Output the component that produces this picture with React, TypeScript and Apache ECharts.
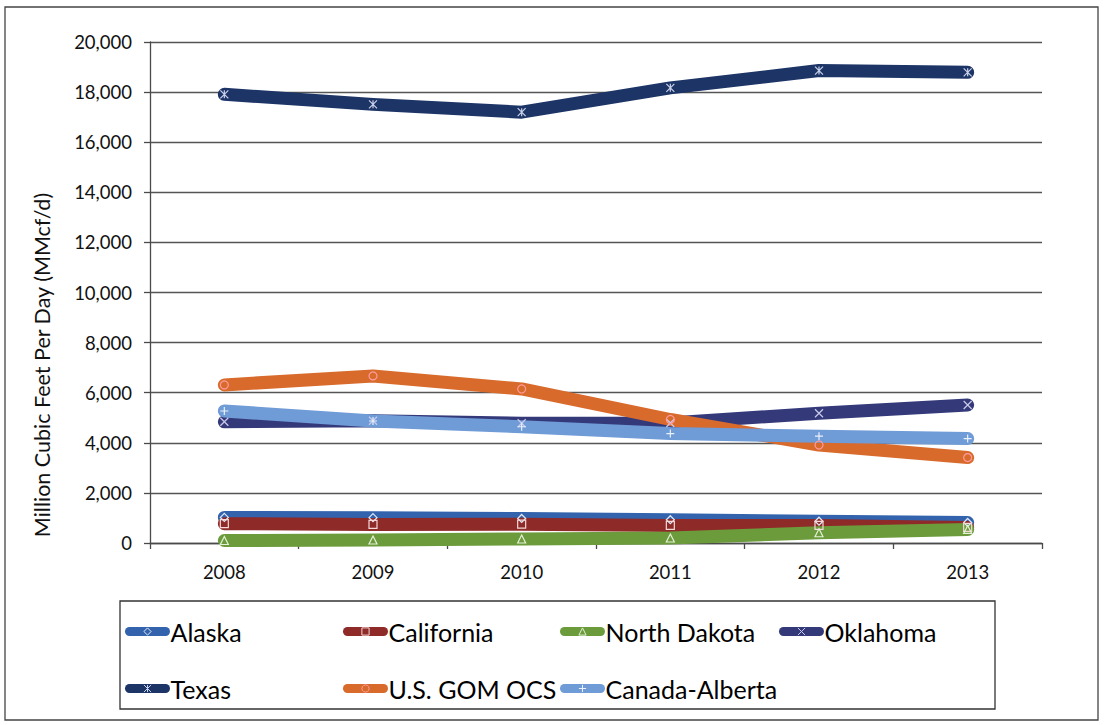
import React, { useEffect, useRef } from "react";
import * as echarts from "echarts";

// ---------- data ----------
const years = ["2008", "2009", "2010", "2011", "2012", "2013"];
const alaska = [1020, 1010, 980, 930, 870, 820];
const california = [770, 740, 750, 700, 700, 620];
const northDakota = [100, 120, 160, 200, 410, 540];
const oklahoma = [4840, 4880, 4780, 4790, 5180, 5510];
const texas = [17910, 17510, 17200, 18170, 18860, 18790];
const gomOcs = [6310, 6670, 6150, 4930, 3910, 3410];
const canadaAlberta = [5270, 4870, 4640, 4370, 4265, 4170];

const seriesNames = [
  "Alaska",
  "California",
  "North Dakota",
  "Oklahoma",
  "Texas",
  "U.S. GOM OCS",
  "Canada-Alberta",
];
const seriesValues = [alaska, california, northDakota, oklahoma, texas, gomOcs, canadaAlberta];

const yMin = 0;
const yMax = 20000;
const yStep = 2000;
const yTitle = "Million Cubic Feet Per Day (MMcf/d)";

// ---------- styles ----------
const lineColors = ["#3263ac", "#8e2a28", "#6c9b3c", "#34397a", "#1c3466", "#d86a2c", "#6f9bd7"];
const markerColors = ["#e3e9f8", "#f4d8d8", "#e4f1d6", "#cbcbec", "#c9d1ea", "#ff9c9c", "#eaf1fb"];
const markerSymbols = [
  "path://M5,0L10,5L5,10L0,5Z",
  "rect",
  "triangle",
  "path://M0,0L10,10M10,0L0,10",
  "path://M0,0L10,10M10,0L0,10M5,0L5,10",
  "circle",
  "path://M5,0L5,10M0,5L10,5",
];
const legendLeft = [125, 343, 560, 779, 125, 343, 560];
const legendTop = [619, 619, 619, 619, 676, 676, 676];

const FONT = "Lato";

export default function App() {
  const ref = useRef<HTMLDivElement>(null);

  useEffect(() => {
    if (!ref.current) return;
    const chart = echarts.init(ref.current, null, { renderer: "svg" });

    const series = seriesNames.map((name, i) => ({
      name,
      type: "line",
      data: seriesValues[i],
      symbol: markerSymbols[i],
      symbolSize: 8,
      showSymbol: true,
      lineStyle: { color: lineColors[i], width: 13, cap: "round", join: "round" },
      itemStyle: { color: "rgba(0,0,0,0)", borderColor: markerColors[i], borderWidth: 1.2 },
      emphasis: { disabled: true },
    }));

    const legends = seriesNames.map((name, i) => ({
      data: [name],
      left: legendLeft[i],
      top: legendTop[i],
      padding: 0,
      itemWidth: 36,
      itemHeight: 9,
      selectedMode: false,
      textStyle: { fontFamily: FONT, fontSize: 25, color: "#000" },
      lineStyle: { width: 9, cap: "round" },
      itemStyle: { borderWidth: 1 },
    }));

    chart.setOption({
      animation: false,
      backgroundColor: "#ffffff",
      grid: { left: 150, right: 62, top: 42, bottom: 182 },
      xAxis: {
        type: "category",
        data: years,
        boundaryGap: true,
        axisLine: { show: true, lineStyle: { color: "#4a4a4a", width: 1.3 } },
        axisTick: { show: true, length: 6, lineStyle: { color: "#4a4a4a", width: 1.3 } },
        axisLabel: { fontFamily: FONT, fontSize: 18.5, color: "#111", margin: 19 },
        splitLine: { show: false },
      },
      yAxis: {
        type: "value",
        min: yMin,
        max: yMax,
        interval: yStep,
        axisLine: { show: true, lineStyle: { color: "#4a4a4a", width: 1.3 } },
        axisTick: { show: true, length: 6, lineStyle: { color: "#4a4a4a", width: 1.3 } },
        axisLabel: {
          fontFamily: FONT,
          fontSize: 18.5,
          color: "#111",
          margin: 18,
          formatter: (v: number) => v.toLocaleString("en-US"),
        },
        splitLine: { show: true, lineStyle: { color: "#555", width: 1.3 } },
      },
      legend: legends,
      series,
      graphic: [
        {
          type: "rect",
          shape: { x: 5, y: 7, width: 1093, height: 713 },
          style: { fill: "none", stroke: "#444", lineWidth: 1.3 },
          silent: true,
        },
        {
          type: "rect",
          shape: { x: 120, y: 601, width: 875, height: 108 },
          style: { fill: "none", stroke: "#333", lineWidth: 1.3 },
          silent: true,
        },
        {
          type: "text",
          x: 42,
          y: 365,
          rotation: Math.PI / 2,
          style: {
            text: yTitle,
            fontFamily: FONT,
            fontSize: 21.5,
            fill: "#111",
            align: "center",
            verticalAlign: "middle",
          },
          silent: true,
        },
      ],
    });

    return () => chart.dispose();
  }, []);

  return (
    <div
      ref={ref}
      style={{ position: "fixed", left: 0, top: 0, width: 1104, height: 725, background: "#fff" }}
    />
  );
}
